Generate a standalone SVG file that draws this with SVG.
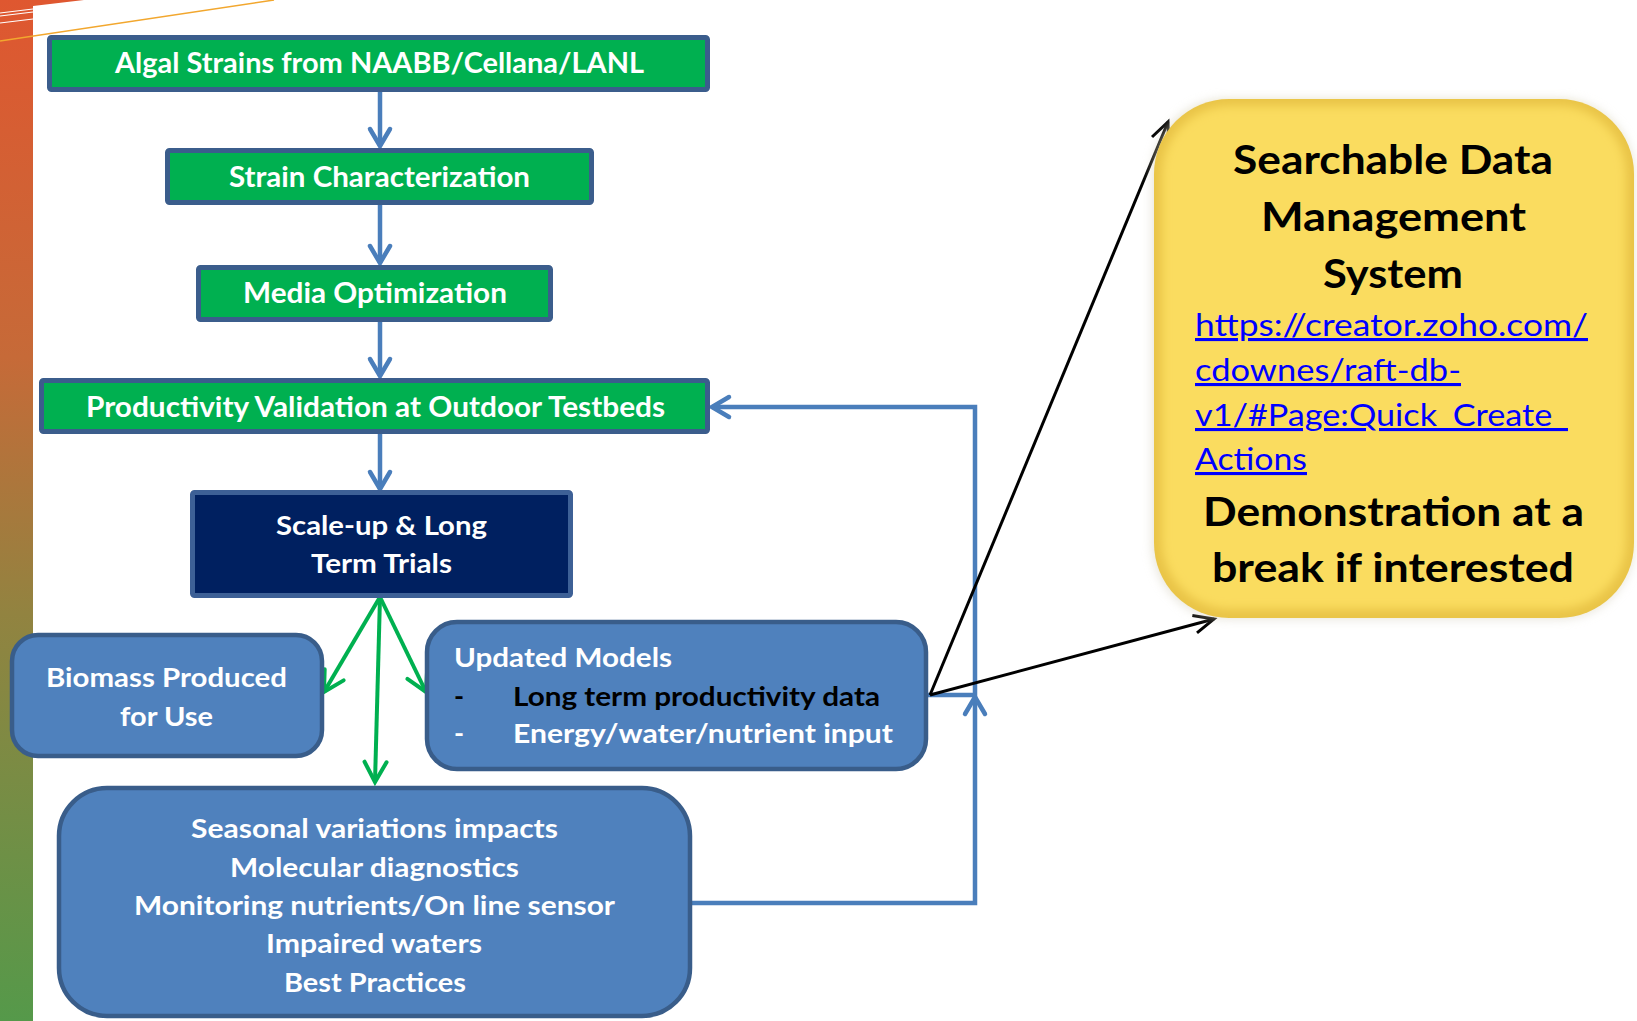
<svg xmlns="http://www.w3.org/2000/svg" width="1637" height="1021" viewBox="0 0 1637 1021">
  <defs>
    <style>
      text { font-family: Lato, "Open Sans", "Liberation Sans", sans-serif; font-weight: 700; }
      .step { fill: #00B050; stroke: #3B5D8C; stroke-width: 5; }
      .navy { fill: #002060; stroke: #3D6096; stroke-width: 5; }
      .panel { fill: #4F81BD; stroke: #395D8A; stroke-width: 4.5; }
      .w28 { fill: #FFFFFF; font-size: 28px; }
      .w27 { fill: #FFFFFF; font-size: 27px; }
      .b27 { fill: #000000; font-size: 27px; }
      .head { fill: #000000; font-size: 40px; }
      .link { fill: #0000FF; font-size: 31px; font-weight: 400; text-decoration: underline; }
      .blue { fill: none; stroke: #4A7EBB; stroke-width: 4.5; }
      .green { fill: none; stroke: #00B050; stroke-width: 4; }
      .black { fill: none; stroke: #000000; stroke-width: 3; }
    </style>
    <linearGradient id="sideBar" x1="0" y1="0" x2="0" y2="1">
      <stop offset="0" stop-color="#DF5730"/>
      <stop offset="0.35" stop-color="#C66A38"/>
      <stop offset="0.6" stop-color="#928340"/>
      <stop offset="1" stop-color="#55994A"/>
    </linearGradient>
    <filter id="soft" x="-10%" y="-10%" width="120%" height="120%">
      <feGaussianBlur stdDeviation="5"/>
    </filter>
    <marker id="chevBlue" markerUnits="userSpaceOnUse" viewBox="-24 -14 28 28" refX="0" refY="0" markerWidth="28" markerHeight="28" orient="auto" overflow="visible">
      <path d="M-17,-10 L0,0 L-17,10" fill="none" stroke="#4A7EBB" stroke-width="4.5" stroke-linecap="round"/>
    </marker>
    <marker id="chevGreen" markerUnits="userSpaceOnUse" viewBox="-24 -14 28 28" refX="0" refY="0" markerWidth="28" markerHeight="28" orient="auto" overflow="visible">
      <path d="M-20,-11 L0,0 L-20,11" fill="none" stroke="#00B050" stroke-width="4" stroke-linecap="round"/>
    </marker>
    <marker id="chevBlack" markerUnits="userSpaceOnUse" viewBox="-24 -14 28 28" refX="0" refY="0" markerWidth="28" markerHeight="28" orient="auto" overflow="visible">
      <path d="M-20,-9 L0,0 L-20,9" fill="none" stroke="#000000" stroke-width="3"/>
    </marker>
  </defs>

  <!-- page background and slide decoration -->
  <rect x="0" y="0" width="1637" height="1021" fill="#FFFFFF"/>
  <rect x="0" y="0" width="33" height="1021" fill="url(#sideBar)"/>
  <polygon points="33,0 84,0 33,6" fill="#DF5730"/>
  <g stroke="#FFFFFF" stroke-width="1.2">
    <line x1="0" y1="13" x2="33" y2="9"/>
    <line x1="0" y1="16" x2="33" y2="12"/>
    <line x1="0" y1="23" x2="33" y2="19"/>
  </g>
  <line x1="0" y1="41" x2="274" y2="0" stroke="#F2A72E" stroke-width="1.5"/>

  <!-- connectors -->
  <g id="connectors">
    <path class="blue" d="M380,92 V146" marker-end="url(#chevBlue)"/>
    <path class="blue" d="M380,205 V263" marker-end="url(#chevBlue)"/>
    <path class="blue" d="M380,322 V376" marker-end="url(#chevBlue)"/>
    <path class="blue" d="M380,434 V489" marker-end="url(#chevBlue)"/>
    <path class="blue" d="M692,903 H975 V697" marker-end="url(#chevBlue)"/>
    <path class="blue" d="M928,695 H975 V407 H712" marker-end="url(#chevBlue)"/>
    <path class="green" d="M380,597 L324,692" marker-end="url(#chevGreen)"/>
    <path class="green" d="M380,597 L426,692" marker-end="url(#chevGreen)"/>
    <path class="green" d="M380,597 L375,782" marker-end="url(#chevGreen)"/>
    <path class="black" d="M930,695 L1168,122" marker-end="url(#chevBlack)"/>
    <path class="black" d="M930,695 L1214,619" marker-end="url(#chevBlack)"/>
  </g>

  <!-- process steps -->
  <g id="algal-strains">
    <rect class="step" x="49.5" y="37.5" width="658" height="52" rx="2"/>
    <text class="w28" x="115" y="73" textLength="529" lengthAdjust="spacingAndGlyphs">Algal Strains from NAABB/Cellana/LANL</text>
  </g>
  <g id="strain-characterization">
    <rect class="step" x="167.5" y="150.5" width="424" height="52" rx="2"/>
    <text class="w28" x="229" y="187" textLength="301" lengthAdjust="spacingAndGlyphs">Strain Characterization</text>
  </g>
  <g id="media-optimization">
    <rect class="step" x="198.5" y="267.5" width="352" height="52" rx="2"/>
    <text class="w28" x="243" y="303" textLength="264" lengthAdjust="spacingAndGlyphs">Media Optimization</text>
  </g>
  <g id="productivity-validation">
    <rect class="step" x="41.5" y="380.5" width="666" height="51" rx="2"/>
    <text class="w28" x="86" y="417" textLength="579" lengthAdjust="spacingAndGlyphs">Productivity Validation at Outdoor Testbeds</text>
  </g>
  <g id="scale-up">
    <rect class="navy" x="192.5" y="492.5" width="378" height="103" rx="2"/>
    <text class="w27" x="276" y="535" textLength="211" lengthAdjust="spacingAndGlyphs">Scale-up &amp; Long</text>
    <text class="w27" x="311" y="573" textLength="141" lengthAdjust="spacingAndGlyphs">Term Trials</text>
  </g>

  <!-- outcomes -->
  <g id="biomass">
    <rect class="panel" x="12" y="635" width="310" height="121" rx="26"/>
    <text class="w27" x="46" y="687" textLength="241" lengthAdjust="spacingAndGlyphs">Biomass Produced</text>
    <text class="w27" x="120" y="726" textLength="93" lengthAdjust="spacingAndGlyphs">for Use</text>
  </g>
  <g id="updated-models">
    <rect class="panel" x="427" y="622" width="499" height="147" rx="30"/>
    <text class="w27" x="454" y="667" textLength="218" lengthAdjust="spacingAndGlyphs">Updated Models</text>
    <text class="b27" x="454" y="706">-</text>
    <text class="b27" x="513" y="706" textLength="367" lengthAdjust="spacingAndGlyphs">Long term productivity data</text>
    <text class="w27" x="454" y="743">-</text>
    <text class="w27" x="513" y="743" textLength="380" lengthAdjust="spacingAndGlyphs">Energy/water/nutrient input</text>
  </g>
  <g id="seasonal">
    <rect class="panel" x="59" y="788" width="631" height="228" rx="48"/>
    <text class="w27" x="191" y="838" textLength="367" lengthAdjust="spacingAndGlyphs">Seasonal variations impacts</text>
    <text class="w27" x="230" y="877" textLength="289" lengthAdjust="spacingAndGlyphs">Molecular diagnostics</text>
    <text class="w27" x="134" y="915" textLength="481" lengthAdjust="spacingAndGlyphs">Monitoring nutrients/On line sensor</text>
    <text class="w27" x="266" y="953" textLength="216" lengthAdjust="spacingAndGlyphs">Impaired waters</text>
    <text class="w27" x="284" y="992" textLength="182" lengthAdjust="spacingAndGlyphs">Best Practices</text>
  </g>

  <!-- data management callout -->
  <g id="data-management">
    <rect x="1151" y="98" width="484" height="522" rx="76" fill="#D9D4C4" opacity="0.5" filter="url(#soft)"/>
    <rect x="1154" y="99" width="480" height="519" rx="75" fill="#E9C447"/>
    <rect x="1162" y="106" width="464" height="503" rx="68" fill="#FADC5E" filter="url(#soft)"/>
    <text class="head" x="1233" y="174" textLength="320" lengthAdjust="spacingAndGlyphs">Searchable Data</text>
    <text class="head" x="1261" y="231" textLength="265" lengthAdjust="spacingAndGlyphs">Management</text>
    <text class="head" x="1323" y="288" textLength="140" lengthAdjust="spacingAndGlyphs">System</text>
    <text class="link" x="1195" y="336" textLength="393" lengthAdjust="spacingAndGlyphs">https://creator.zoho.com/</text>
    <text class="link" x="1195" y="381" textLength="266" lengthAdjust="spacingAndGlyphs">cdownes/raft-db-</text>
    <text class="link" x="1195" y="426" textLength="373" lengthAdjust="spacingAndGlyphs">v1/#Page:Quick_Create_</text>
    <text class="link" x="1195" y="470" textLength="112" lengthAdjust="spacingAndGlyphs">Actions</text>
    <text class="head" x="1203" y="526" textLength="381" lengthAdjust="spacingAndGlyphs">Demonstration at a</text>
    <text class="head" x="1212" y="582" textLength="362" lengthAdjust="spacingAndGlyphs">break if interested</text>
  </g>
</svg>
